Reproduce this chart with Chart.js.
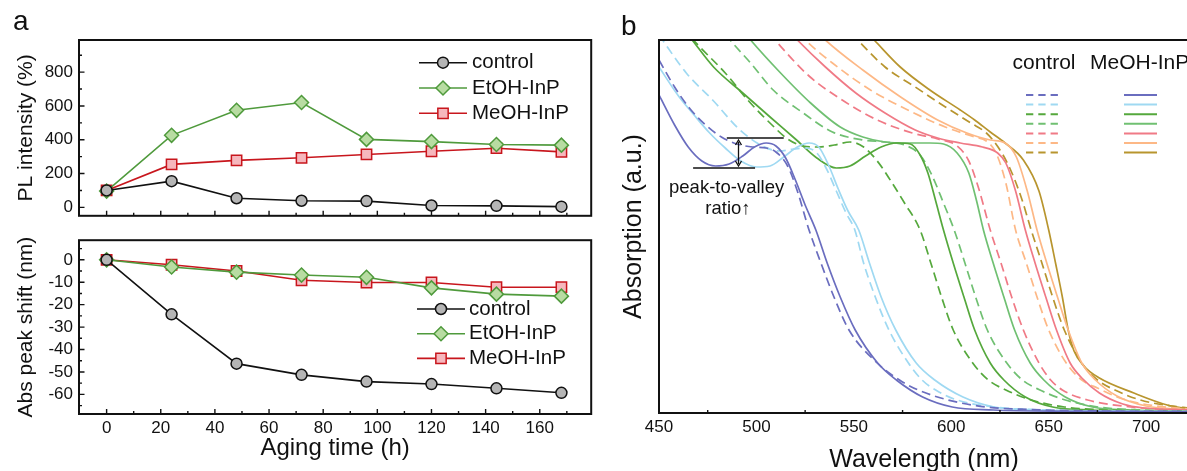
<!DOCTYPE html>
<html>
<head>
<meta charset="utf-8">
<script src="https://cdn.jsdelivr.net/npm/chart.js@4.4.1/dist/chart.umd.min.js"></script>
<style>
html, body { margin: 0; padding: 0; width: 1187px; height: 471px; overflow: hidden; background: #fff; }
#wrap { position: relative; width: 1187px; height: 471px; overflow: hidden; font-family: "Liberation Sans", Arial, sans-serif; }
canvas { position: absolute; }
.panel { position: absolute; font-size: 28px; line-height: 1; color: #111; }
</style>
</head>
<body>
<div id="wrap">
  <canvas id="plTop" width="600" height="232" style="left:0;top:0"></canvas>
  <canvas id="absShift" width="600" height="247" style="left:0;top:224px"></canvas>
  <canvas id="absSpec" width="600" height="471" style="left:600px;top:0"></canvas>
  <div class="panel" style="left:13px;top:7px">a</div>
  <div class="panel" style="left:621px;top:12px">b</div>
</div>
<script>
// ---- panel a: aging data ----
const agingHours = [0, 24, 48, 72, 96, 120, 144, 168];
const seriesNames = ["control", "EtOH-InP", "MeOH-InP"];
const plControl = [100, 155, 54, 39, 37, 11, 9, 4];
const plEtOH = [96, 426, 574, 620, 402, 389, 372, 368];
const plMeOH = [100, 254, 278, 293, 313, 332, 350, 328];
const shiftControl = [0, -24.3, -46.3, -51.3, -54.3, -55.4, -57.3, -59.3];
const shiftEtOH = [0, -3.2, -5.5, -6.8, -7.8, -12.5, -15.3, -16.2];
const shiftMeOH = [0, -2.2, -5, -9.1, -10.1, -10.1, -12.2, -12.2];
const plTicks = [0, 200, 400, 600, 800];
const shiftTicks = [-60, -50, -40, -30, -20, -10, 0];
const hourTicks = [0, 20, 40, 60, 80, 100, 120, 140, 160];
const waveTicks = [450, 500, 550, 600, 650, 700];

// ---- panel b: absorption spectra, [wavelength nm, absorbance a.u.] ----
const ctrl1 = [[450,3.53],[458,3.26],[466,3.04],[474,2.88],[482,2.76],[490,2.69],[498,2.66],[505,2.65],[510,2.61],[516,2.47],[521,2.22],[527,1.83],[533.1,1.50],[539.8,1.16],[547.5,0.83],[562,0.50],[573.4,0.33],[583,0.23],[598.4,0.13],[617.6,0.06],[640,0.035],[677,0.02],[722,0.015]];
const meoh1 = [[450,3.18],[458,2.88],[465,2.66],[472,2.52],[479,2.47],[486,2.49],[493,2.57],[499,2.66],[505,2.70],[510,2.67],[515,2.55],[520,2.33],[525,2.08],[530.5,1.83],[536.3,1.50],[543,1.16],[550.7,0.83],[562.2,0.50],[571.8,0.33],[585.3,0.16],[600.5,0.06],[621.5,0.03],[660,0.017],[722,0.012]];
const ctrl2 = [[450,3.78],[464,3.40],[478,3.12],[491,2.84],[503,2.67],[512,2.62],[519,2.64],[525,2.65],[531,2.60],[536,2.44],[541,2.22],[546,2.00],[550.5,1.83],[555,1.50],[561,1.16],[568,0.83],[578,0.50],[585,0.33],[592,0.23],[603,0.13],[622,0.06],[645,0.032],[685,0.02],[722,0.015]];
const meoh2 = [[450,3.46],[460,3.17],[468,2.98],[476,2.80],[484,2.65],[492,2.52],[500,2.46],[507,2.47],[514,2.56],[521,2.66],[527,2.70],[532,2.66],[537,2.48],[542,2.24],[547,2.02],[552.5,1.83],[558,1.50],[564,1.16],[571.5,0.83],[582,0.50],[591.5,0.33],[606,0.16],[622,0.06],[645,0.03],[685,0.018],[722,0.014]];
const ctrl3 = [[462,3.85],[470,3.68],[484,3.40],[496,3.12],[508,2.88],[516,2.74],[524,2.67],[532,2.66],[540,2.68],[548,2.71],[555,2.66],[562,2.52],[569,2.32],[576,2.10],[584,1.83],[589.5,1.50],[595,1.16],[601,0.83],[611,0.50],[619,0.33],[628,0.23],[641,0.13],[658,0.06],[680,0.03],[714,0.018],[722,0.016]];
const meoh3 = [[460,3.90],[467,3.73],[478,3.46],[493,3.20],[507,2.96],[520,2.74],[531,2.55],[541,2.45],[548,2.47],[556,2.57],[564,2.66],[572,2.70],[579,2.69],[584,2.58],[588,2.40],[592,2.12],[596,1.83],[601,1.50],[606.5,1.16],[612,0.83],[620,0.50],[627,0.33],[638,0.16],[652,0.06],[672,0.03],[710,0.017],[722,0.015]];
const ctrl4 = [[480,3.90],[486.5,3.73],[497,3.50],[508.6,3.23],[524,3.00],[539,2.81],[554.6,2.73],[566,2.71],[576,2.68],[584,2.58],[590,2.38],[596,2.10],[601.5,1.83],[607,1.50],[612.5,1.16],[618.5,0.83],[628.5,0.50],[636.5,0.33],[645.5,0.23],[658.5,0.13],[675.5,0.06],[697.5,0.03],[722,0.018]];
const meoh4 = [[490,3.90],[497,3.73],[512.4,3.40],[527.8,3.10],[543,2.86],[554.6,2.76],[566,2.71],[578,2.70],[589,2.70],[596,2.69],[603,2.60],[609,2.40],[613,2.12],[616.5,1.83],[621.5,1.50],[627,1.16],[632.5,0.83],[640.5,0.50],[647.5,0.33],[658.5,0.16],[672.5,0.06],[692.5,0.03],[722,0.017]];
const ctrl5 = [[502,3.90],[509.5,3.73],[527,3.37],[544,3.13],[562,2.93],[580,2.80],[593,2.74],[603,2.67],[609,2.52],[614,2.25],[620,1.83],[625.5,1.50],[631,1.16],[637,0.83],[645,0.50],[651,0.33],[657,0.23],[670,0.13],[692,0.06],[705,0.04],[722,0.03]];
const meoh5 = [[513,3.90],[521,3.73],[535.4,3.46],[551,3.20],[566,3.00],[581.5,2.83],[593,2.75],[604.6,2.70],[616,2.66],[623.8,2.60],[628,2.50],[633,2.22],[638,1.83],[643,1.50],[648.5,1.16],[654,0.83],[661,0.50],[667,0.35],[676,0.20],[688,0.09],[699,0.05],[722,0.03]];
const ctrl6 = [[517,3.90],[525,3.73],[539,3.50],[558.5,3.23],[577.7,3.03],[596.9,2.86],[612,2.76],[618,2.72],[623,2.60],[628,2.30],[633,1.83],[638.5,1.50],[644,1.16],[650,0.83],[659,0.50],[667,0.33],[675,0.25],[688,0.14],[705,0.07],[722,0.04]];
const meoh6 = [[527,3.90],[535.4,3.73],[554.6,3.43],[574,3.16],[593,2.93],[608,2.80],[620,2.73],[627.6,2.70],[633.4,2.56],[639,2.22],[644,1.83],[649,1.50],[654.5,1.16],[660,0.83],[667,0.50],[674,0.33],[685,0.17],[700,0.07],[722,0.035]];
const ctrl7 = [[544,3.90],[552,3.73],[566,3.46],[581.5,3.26],[597,3.06],[610,2.90],[618,2.80],[624,2.66],[630,2.45],[636,2.15],[641,1.83],[646.5,1.50],[652,1.16],[658,0.83],[667,0.50],[675,0.33],[684,0.23],[697,0.13],[713,0.07],[722,0.05]];
const meoh7 = [[552,3.90],[560.4,3.73],[573.8,3.46],[589,3.23],[604.6,3.03],[612,2.93],[620,2.81],[627.6,2.70],[637,2.53],[645,2.22],[650,1.83],[653.5,1.50],[657,1.16],[660,0.83],[663,0.62],[668,0.47],[676,0.35],[693.7,0.20],[710.8,0.08],[722,0.04]];
const sizeColors = ["#6a6dbf", "#9fd9f2", "#55a83c", "#70c072", "#f07a86", "#fdb886", "#b8952e"];

// peak-to-valley marker: [from nm, to nm, a.u.]
const peakLine = [484.8, 514.0, 2.75];
const valleyLine = [467.5, 499.3, 2.45];
const arrowAt = [490.8, 2.73, 2.47];

Chart.defaults.font.family = '"Liberation Sans", Arial, Helvetica, sans-serif';
Chart.defaults.color = "#111";

const pointLook = [
    { line: "#111111", fill: "#b5b5b5", style: "circle", r: 5.5 },
    { line: "#4f9a3c", fill: "#b8dca2", style: "rectRot", r: 7 },
    { line: "#c8161d", fill: "#f6b7bd", style: "rect", r: 7.3 }
];

const fixedTicks = list => (s => { s.ticks = list.map(v => ({ value: v })); });

// caixa + ticks para dentro
const framePlugin = {
    id: "frame",
    afterDatasetsDraw(chart, args, opts) {
        const { ctx, chartArea: a } = chart;
        const X = chart.scales.x, Y = chart.scales.y;
        ctx.save();
        ctx.strokeStyle = "#111";
        ctx.lineWidth = 1.4;
        ctx.beginPath();
        (opts.xMajor || []).forEach(v => { const p = X.getPixelForValue(v); ctx.moveTo(p, a.bottom); ctx.lineTo(p, a.bottom - 5); });
        (opts.xMinor || []).forEach(v => { const p = X.getPixelForValue(v); ctx.moveTo(p, a.bottom); ctx.lineTo(p, a.bottom - 3); });
        (opts.yMajor || []).forEach(v => { const p = Y.getPixelForValue(v); ctx.moveTo(a.left, p); ctx.lineTo(a.left + 5.5, p); });
        (opts.yMinor || []).forEach(v => { const p = Y.getPixelForValue(v); ctx.moveTo(a.left, p); ctx.lineTo(a.left + 3, p); });
        ctx.stroke();
        ctx.lineWidth = 2;
        ctx.strokeRect(a.left, a.top, a.right - a.left, a.bottom - a.top);
        ctx.restore();
    }
};

const markerLegend = {
    id: "markerLegend",
    afterDraw(chart, args, opts) {
        const ctx = chart.ctx;
        chart.data.datasets.forEach((ds, i) => {
            const y = opts.y0 + i * opts.dy;
            ctx.save();
            ctx.strokeStyle = ds.borderColor;
            ctx.lineWidth = ds.borderWidth;
            ctx.beginPath();
            ctx.moveTo(opts.x0, y);
            ctx.lineTo(opts.x1, y);
            ctx.stroke();
            ctx.fillStyle = ds.pointBackgroundColor;
            ctx.strokeStyle = ds.pointBorderColor;
            ctx.lineWidth = ds.pointBorderWidth;
            Chart.helpers.drawPoint(ctx, { pointStyle: ds.pointStyle, radius: ds.pointRadius, rotation: 0, borderWidth: ds.pointBorderWidth }, (opts.x0 + opts.x1) / 2, y);
            ctx.fillStyle = "#111";
            ctx.font = '20.5px "Liberation Sans", Arial, sans-serif';
            ctx.textAlign = "left";
            ctx.textBaseline = "middle";
            ctx.fillText(ds.label, opts.textX, y);
            ctx.restore();
        });
    }
};

function agingSets(rows) {
    return rows.map((vals, i) => ({
        label: seriesNames[i],
        data: agingHours.map((h, j) => ({ x: h, y: vals[j] })),
        borderColor: pointLook[i].line,
        borderWidth: 1.6,
        pointStyle: pointLook[i].style,
        pointRadius: pointLook[i].r,
        pointBackgroundColor: pointLook[i].fill,
        pointBorderColor: pointLook[i].line,
        pointBorderWidth: 1.5,
        tension: 0,
        clip: false
    }));
}

const tickFont = { size: 17 };
const hourMinor = [10, 30, 50, 70, 90, 110, 130, 150, 170];

// PL intensity
new Chart(document.getElementById("plTop"), {
    type: "line",
    data: { datasets: agingSets([plControl, plEtOH, plMeOH]) },
    plugins: [framePlugin, markerLegend],
    options: {
        responsive: false, animation: false,
        layout: { padding: { left: 0, right: 3, top: 40, bottom: 4 } },
        plugins: {
            legend: { display: false }, tooltip: { enabled: false },
            frame: { xMajor: hourTicks, xMinor: hourMinor, yMajor: plTicks, yMinor: [100, 300, 500, 700, 900] },
            markerLegend: { x0: 419, x1: 467, textX: 472, y0: 62.7, dy: 25.3 }
        },
        scales: {
            x: { type: "linear", min: -10.2, max: 179, display: false },
            y: {
                min: -50, max: 990,
                grid: { display: false, drawTicks: false }, border: { display: false },
                ticks: { font: tickFont, padding: 6 },
                afterBuildTicks: fixedTicks(plTicks),
                title: { display: true, text: "PL intensity (%)", font: { size: 21 }, padding: { top: 13.4, bottom: 0 } },
                afterFit: s => { s.width = 79; }
            }
        }
    }
});

// Abs peak shift
new Chart(document.getElementById("absShift"), {
    type: "line",
    data: { datasets: agingSets([shiftControl, shiftEtOH, shiftMeOH]) },
    plugins: [framePlugin, markerLegend],
    options: {
        responsive: false, animation: false,
        layout: { padding: { left: 0, right: 3, top: 4, bottom: 0 } },
        plugins: {
            legend: { display: false }, tooltip: { enabled: false },
            frame: { xMajor: hourTicks, xMinor: hourMinor, yMajor: shiftTicks, yMinor: [-65, -55, -45, -35, -25, -15, -5, 5] },
            markerLegend: { x0: 417, x1: 465, textX: 469, y0: 85, dy: 24.7 }
        },
        scales: {
            x: {
                type: "linear", min: -10.2, max: 179,
                grid: { display: false, drawTicks: false }, border: { display: false },
                ticks: { font: tickFont, padding: 4 },
                afterBuildTicks: fixedTicks(hourTicks),
                title: { display: true, text: "Aging time (h)", font: { size: 24 }, padding: { top: 0, bottom: 8.6 } },
                afterFit: s => { s.height = 57; }
            },
            y: {
                min: -68.75, max: 8.75,
                grid: { display: false, drawTicks: false }, border: { display: false },
                ticks: { font: tickFont, padding: 6 },
                afterBuildTicks: fixedTicks(shiftTicks),
                title: { display: true, text: "Abs peak shift (nm)", font: { size: 21 }, padding: { top: 13.4, bottom: 0 } },
                afterFit: s => { s.width = 79; }
            }
        }
    }
});

// legenda + marcação peak-to-valley do painel b
const specDecor = {
    id: "specDecor",
    afterDraw(chart) {
        const { ctx } = chart;
        const X = chart.scales.x, Y = chart.scales.y;
        ctx.save();
        ctx.strokeStyle = "#111";
        ctx.fillStyle = "#111";
        ctx.lineWidth = 1.6;
        [peakLine, valleyLine].forEach(m => {
            ctx.beginPath();
            ctx.moveTo(X.getPixelForValue(m[0]), Y.getPixelForValue(m[2]));
            ctx.lineTo(X.getPixelForValue(m[1]), Y.getPixelForValue(m[2]));
            ctx.stroke();
        });
        const ax = X.getPixelForValue(arrowAt[0]);
        const ay0 = Y.getPixelForValue(arrowAt[1]), ay1 = Y.getPixelForValue(arrowAt[2]);
        ctx.lineWidth = 1.3;
        ctx.beginPath();
        ctx.moveTo(ax, ay0 + 2); ctx.lineTo(ax, ay1 - 2);
        ctx.stroke();
        ctx.beginPath();
        ctx.moveTo(ax - 3, ay0 + 5); ctx.lineTo(ax, ay0); ctx.lineTo(ax + 3, ay0 + 5);
        ctx.moveTo(ax - 3, ay1 - 5); ctx.lineTo(ax, ay1); ctx.lineTo(ax + 3, ay1 - 5);
        ctx.stroke();

        ctx.font = '18.5px "Liberation Sans", Arial, sans-serif';
        ctx.textAlign = "center";
        ctx.textBaseline = "middle";
        ctx.fillText("peak-to-valley", X.getPixelForValue(484.7), Y.getPixelForValue(2.25));
        ctx.fillText("ratio\u2191", X.getPixelForValue(485.4), Y.getPixelForValue(2.04));

        ctx.font = '21px "Liberation Sans", Arial, sans-serif';
        ctx.fillText("control", 444, 63);
        ctx.textAlign = "left";
        ctx.fillText("MeOH-InP", 490, 63);
        ctx.lineWidth = 2;
        sizeColors.forEach((c, i) => {
            const y = 95 + i * 9.6;
            ctx.strokeStyle = c;
            ctx.setLineDash([7.3, 5]);
            ctx.beginPath(); ctx.moveTo(426, y); ctx.lineTo(458, y); ctx.stroke();
            ctx.setLineDash([]);
            ctx.beginPath(); ctx.moveTo(524, y); ctx.lineTo(557, y); ctx.stroke();
        });
        ctx.restore();
    }
};

const ctrlSpectra = [ctrl1, ctrl2, ctrl3, ctrl4, ctrl5, ctrl6, ctrl7];
const meohSpectra = [meoh1, meoh2, meoh3, meoh4, meoh5, meoh6, meoh7];
const specSets = [];
sizeColors.forEach((c, i) => {
    [[ctrlSpectra[i], [9, 5]], [meohSpectra[i], []]].forEach(([pts, dash]) => {
        specSets.push({
            data: pts.map(p => ({ x: p[0], y: p[1] })),
            borderColor: c,
            borderWidth: 1.7,
            borderDash: dash,
            pointRadius: 0,
            cubicInterpolationMode: "monotone"
        });
    });
});

new Chart(document.getElementById("absSpec"), {
    type: "line",
    data: { datasets: specSets },
    plugins: [framePlugin, specDecor],
    options: {
        responsive: false, animation: false,
        layout: { padding: { left: 0, right: 11, top: 40, bottom: 0 } },
        plugins: {
            legend: { display: false }, tooltip: { enabled: false },
            frame: { xMinor: [475, 525, 575, 625, 675, 725] }
        },
        scales: {
            x: {
                type: "linear", min: 450, max: 722,
                grid: { display: false, drawTicks: false }, border: { display: false },
                ticks: { font: tickFont, padding: 4 },
                afterBuildTicks: fixedTicks(waveTicks),
                title: { display: true, text: "Wavelength (nm)", font: { size: 25, lineHeight: 0.88 }, padding: { top: 0, bottom: 0 } },
                afterFit: s => { s.height = 58; }
            },
            y: {
                min: 0, max: 3.73,
                grid: { display: false, drawTicks: false }, border: { display: false },
                ticks: { display: false },
                title: { display: true, text: "Absorption (a.u.)", font: { size: 25 }, padding: { top: 19, bottom: 0 } },
                afterFit: s => { s.width = 59; }
            }
        }
    }
});
</script>
</body>
</html>
